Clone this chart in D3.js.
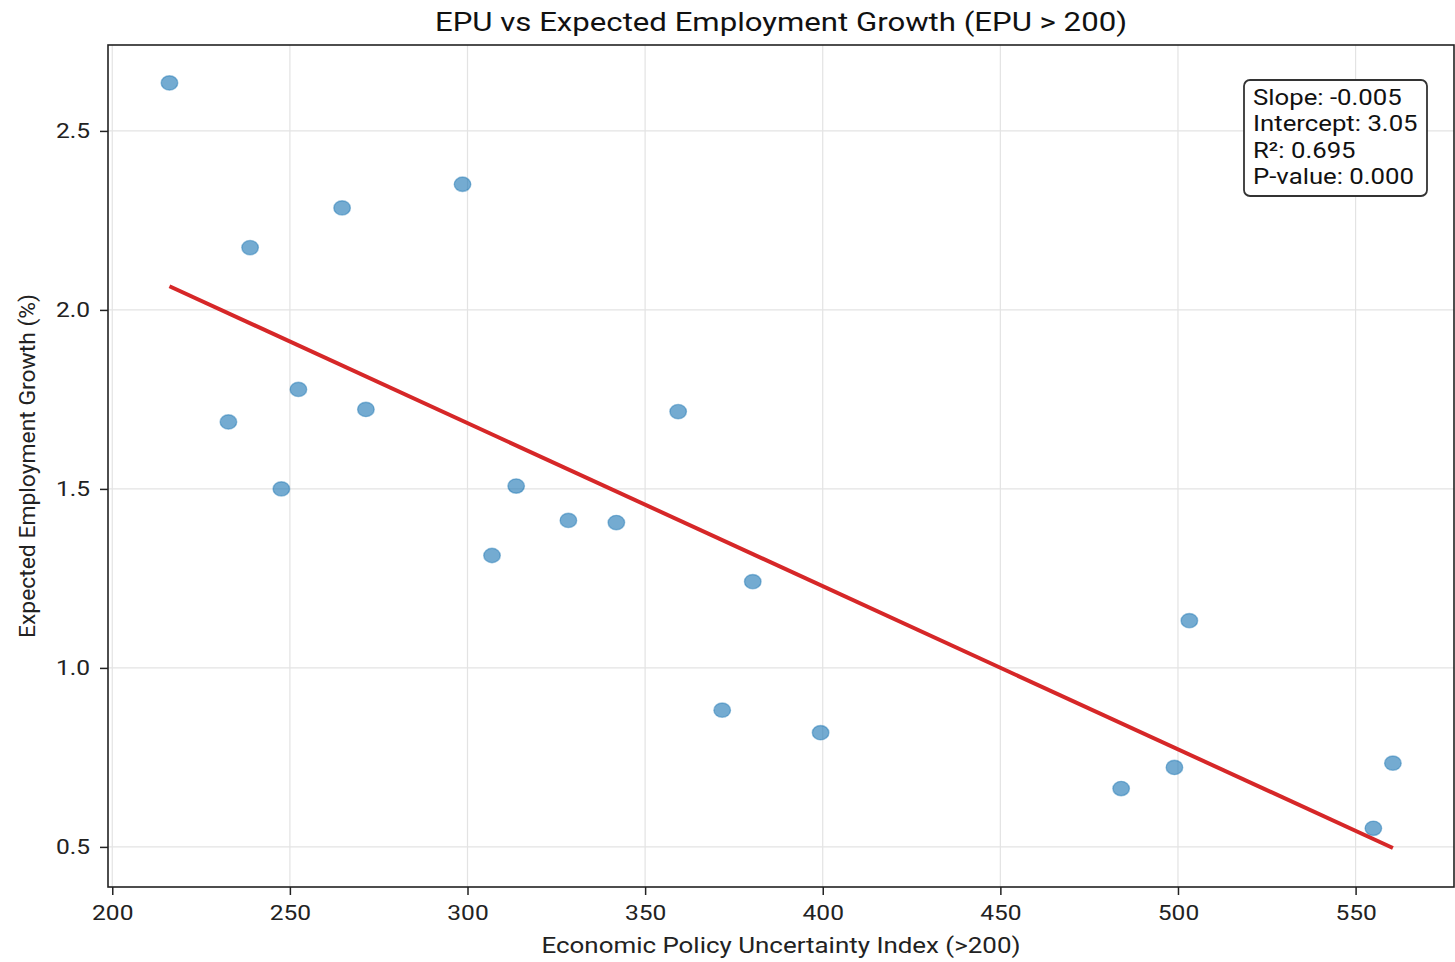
<!DOCTYPE html>
<html><head><meta charset="utf-8">
<script src="https://cdn.jsdelivr.net/npm/d3@7"></script>
<style>body{margin:0;background:#fff;}svg{display:block;font-family:Roboto,"Liberation Sans",sans-serif;}</style>
</head><body>
<svg id="c" width="1455" height="962"></svg>
<script>
const epu = [216.1, 238.8, 264.7, 298.6, 232.7, 252.4, 271.4, 247.6, 313.7, 306.9, 328.4, 341.9, 359.3, 380.3, 371.7, 399.4, 503.2, 484.0, 499.0, 555.0, 560.5];
const growth = [2.634, 2.174, 2.285, 2.351, 1.687, 1.778, 1.722, 1.500, 1.508, 1.314, 1.412, 1.406, 1.716, 1.241, 0.882, 0.819, 1.132, 0.663, 0.722, 0.552, 0.734];
const xTicks = [200, 250, 300, 350, 400, 450, 500, 550];
const yTicks = [0.5, 1.0, 1.5, 2.0, 2.5];
const statLines = ["Slope: -0.005", "Intercept: 3.05", "R\u00b2: 0.695", "P-value: 0.000"];
const titleText = "EPU vs Expected Employment Growth (EPU > 200)";
const xLabel = "Economic Policy Uncertainty Index (>200)";
const yLabel = "Expected Employment Growth (%)";

const svg = d3.select("#c");
const L = 108, R = 1454, T = 45, B = 887;
const x = d3.scaleLinear().domain([198.8, 577.7]).range([L, R]);
const y = d3.scaleLinear().domain([0.388, 2.740]).range([B, T]);
const stretch = 1.17;
function widen(sel) {
  sel.each(function () {
    const w = this.getComputedTextLength();
    d3.select(this).attr("textLength", w * stretch).attr("lengthAdjust", "spacingAndGlyphs");
  });
}

// grid
const g = svg.append("g");
g.selectAll("line.vx").data(xTicks).join("line")
  .attr("x1", d => x(d)).attr("x2", d => x(d)).attr("y1", T).attr("y2", B)
  .attr("stroke", "#e3e3e3").attr("stroke-width", 1.2);
g.selectAll("line.hy").data(yTicks).join("line")
  .attr("y1", d => y(d)).attr("y2", d => y(d)).attr("x1", L).attr("x2", R)
  .attr("stroke", "#e3e3e3").attr("stroke-width", 1.2);

// regression
const n = epu.length;
const mx = d3.mean(epu), my = d3.mean(growth);
let sxy = 0, sxx = 0;
for (let i = 0; i < n; i++) { sxy += (epu[i]-mx)*(growth[i]-my); sxx += (epu[i]-mx)**2; }
const slope = sxy / sxx, icpt = my - slope*mx;
const x0 = d3.min(epu), x1 = d3.max(epu);

// points
svg.append("g").selectAll("ellipse").data(d3.range(n)).join("ellipse")
  .attr("cx", i => x(epu[i])).attr("cy", i => y(growth[i]))
  .attr("rx", 8.3).attr("ry", 7.2)
  .attr("fill", "#1f77b4").attr("fill-opacity", 0.62)
  .attr("stroke", "#1f77b4").attr("stroke-opacity", 0.45).attr("stroke-width", 1.4);

svg.append("line")
  .attr("x1", x(x0)).attr("y1", y(slope*x0+icpt))
  .attr("x2", x(x1)).attr("y2", y(slope*x1+icpt))
  .attr("stroke", "#d62728").attr("stroke-width", 4);

// frame
svg.append("rect").attr("x", L).attr("y", T).attr("width", R-L).attr("height", B-T)
  .attr("fill", "none").attr("stroke", "#222").attr("stroke-width", 1.6);

// axes
const xa = svg.append("g").attr("transform", `translate(0,${B})`)
  .call(d3.axisBottom(x).tickValues(xTicks).tickFormat(d3.format("d")).tickSize(8).tickPadding(10));
const ya = svg.append("g").attr("transform", `translate(${L},0)`)
  .call(d3.axisLeft(y).tickValues(yTicks).tickFormat(d3.format(".1f")).tickSize(8).tickPadding(10));
[xa, ya].forEach(a => {
  a.select(".domain").remove();
  a.selectAll(".tick line").attr("stroke", "#222").attr("stroke-width", 1.5);
  a.selectAll(".tick text").attr("fill", "#222").attr("font-size", 21).attr("font-family", "Roboto");
  widen(a.selectAll(".tick text"));
});

// title & labels
svg.append("text").attr("x", 781).attr("y", 31).attr("text-anchor", "middle")
  .attr("font-size", 26).attr("fill", "#111").attr("textLength", 692).attr("lengthAdjust", "spacingAndGlyphs")
  .text(titleText);
svg.append("text").attr("x", 781).attr("y", 953).attr("text-anchor", "middle")
  .attr("font-size", 22).attr("fill", "#222").attr("textLength", 479).attr("lengthAdjust", "spacingAndGlyphs")
  .text(xLabel);
svg.append("text").attr("transform", "translate(35,466) rotate(-90)").attr("text-anchor", "middle")
  .attr("font-size", 22).attr("fill", "#222").attr("textLength", 344).attr("lengthAdjust", "spacingAndGlyphs")
  .text(yLabel);

// stats box
const bx = 1244, by = 80, bw = 183, bh = 116;
svg.append("rect").attr("x", bx).attr("y", by).attr("width", bw).attr("height", bh)
  .attr("rx", 6).attr("fill", "#fff").attr("stroke", "#333").attr("stroke-width", 1.8);
const st = svg.append("g").selectAll("text").data(statLines).join("text")
  .attr("x", 1253).attr("y", (d, i) => 105 + i*26.3)
  .attr("font-size", 22).attr("fill", "#111")
  .text(d => d);
widen(st);
</script>
</body></html>
